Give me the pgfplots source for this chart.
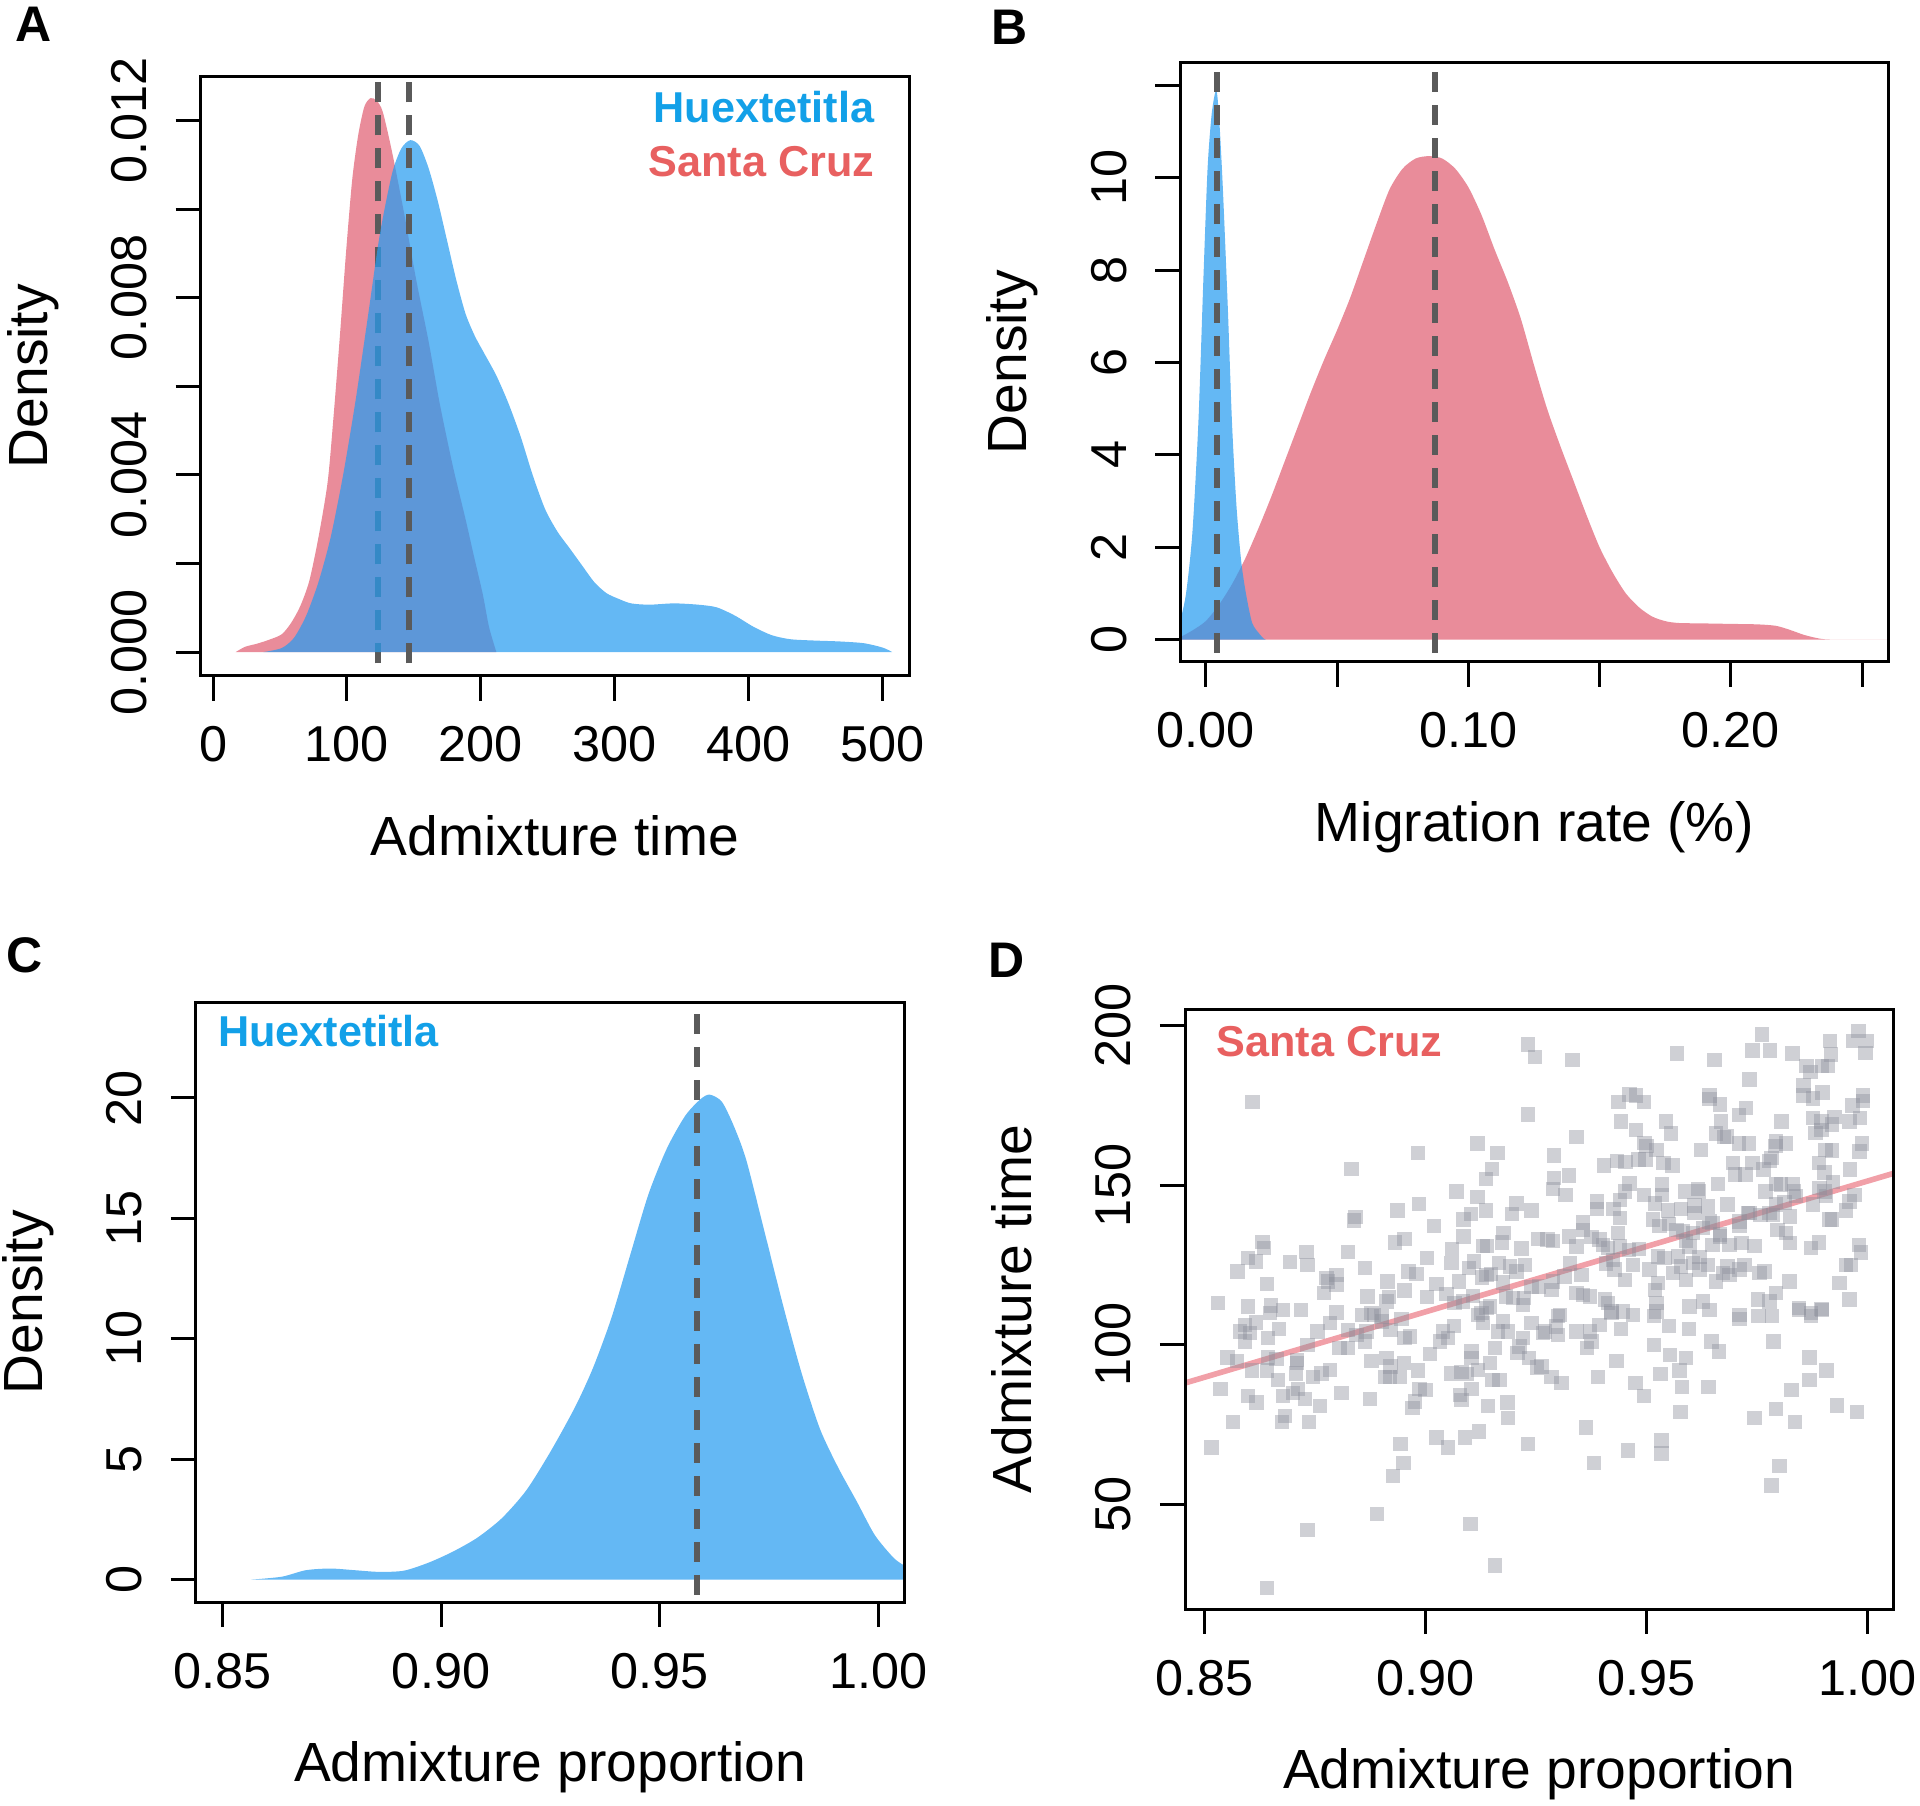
\documentclass[border=0pt]{standalone}
\usepackage{fontspec}
\setmainfont{Liberation Sans}
\usepackage{pgfplots}
\pgfplotsset{compat=1.18}

\definecolor{redfill}{RGB}{233,140,154}
\definecolor{bluebase}{RGB}{40,156,240}
\definecolor{huetext}{RGB}{18,160,232}
\definecolor{santatext}{RGB}{232,96,96}
\definecolor{dashgray}{RGB}{90,90,90}
\definecolor{ptgray}{RGB}{140,143,155}
\definecolor{regline}{RGB}{232,96,110}

\newcommand\tickfont{\fontsize{12.6pt}{15pt}\selectfont}
\newcommand\labfont{\fontsize{13.8pt}{16pt}\selectfont}
\newcommand\legfont{\fontsize{10.8pt}{13pt}\selectfont\bfseries}
\newcommand\panfont{\fontsize{12.5pt}{15pt}\selectfont\bfseries}

\pgfplotsset{
  panel/.style={
    scale only axis, width=177.1pt, height=149.9pt, anchor=south west,
    axis line style={line width=0.75pt},
    tick style={line width=0.75pt, black},
    tick align=outside, major tick length=6.25pt,
    xtick pos=bottom, ytick pos=left,
    scaled ticks=false,
    ticklabel style={font=\tickfont},
    xticklabel style={anchor=base},
    yticklabel style={rotate=90, anchor=base},
    xticklabel shift=15.25pt, yticklabel shift=7.25pt,
    label style={font=\labfont},
    xlabel style={at={(axis description cs:0.5,-0.30)}, anchor=base},
    ylabel style={at={(axis description cs:-0.216,0.5)}, anchor=base},
    axis on top,
  },
  dens/.style={draw=none, smooth, tension=0.45},
  med/.style={dashgray, line width=1.5pt, dash pattern=on 5pt off 3.25pt},
}

\begin{document}
\begin{tikzpicture}
\useasboundingbox (0,0) rectangle (480pt,-451.5pt);

% ---------------- A ----------------
\begin{axis}[panel, at={(50.175pt,-169pt)},
  xmin=-9.2, xmax=519.6, ymin=-0.00054, ymax=0.013,
  xtick={0,100,200,300,400,500}, xticklabels={0,100,200,300,400,500},
  ytick={0,0.002,0.004,0.006,0.008,0.010,0.012},
  yticklabels={0.000,,0.004,,0.008,,0.012},
  xlabel={Admixture time}, ylabel={Density}]
\addplot[dens, fill=redfill] coordinates {
(16.9,0) (24,0.00012) (32.9,0.00019) (42,0.00028) (51.2,0.00040) (58.1,0.00065)
(65,0.00103) (71.8,0.00160) (78.7,0.00259) (85.6,0.00385) (90.1,0.00537)
(94.7,0.00714) (99.3,0.00903) (103.9,0.01067) (108.4,0.01168) (113,0.01232)
(117.6,0.01251) (122.2,0.01245) (126.7,0.0122) (133.6,0.0113) (142.7,0.0099)
(151.7,0.0084) (161,0.0070) (169.3,0.0056) (179,0.0042) (188.5,0.0030)
(194.5,0.0022) (201.4,0.0013) (206,0.00057) (211.5,0)} \closedcycle;
\addplot[med] coordinates {(123.5,-0.001) (123.5,0.014)};
\addplot[dens, fill=bluebase, fill opacity=0.72] coordinates {
(37.5,0) (51.2,0.00009) (60.4,0.00032) (69.5,0.00082) (78.7,0.00158) (87.8,0.00259)
(97,0.00398) (106.1,0.00562) (115.3,0.00751) (124.4,0.00941) (133.6,0.0108)
(140.5,0.01137) (147.3,0.01156) (154.2,0.01143) (161,0.01092) (167.9,0.01017)
(174.8,0.00928) (181.6,0.0084) (188.5,0.00764) (195.4,0.00714) (202.2,0.00676)
(211.4,0.00625) (220.5,0.00562) (229.7,0.00486) (238.8,0.00398) (248,0.00322)
(257.1,0.00272) (266.3,0.00234) (275.4,0.00196) (284.6,0.00158) (293.7,0.00133)
(302.9,0.0012) (312,0.0011) (325.7,0.00107) (344,0.0011) (362.3,0.00107)
(376,0.00101) (389.8,0.00082) (403.5,0.00057) (417.2,0.00038) (431,0.00029)
(449.3,0.00026) (467.6,0.00024) (485.9,0.0002) (500,0.0001) (507,0)} \closedcycle;
\addplot[med] coordinates {(146.4,-0.001) (146.4,0.014)};
\node[anchor=base east, inner sep=0pt, font=\legfont, text=huetext] at (rel axis cs:0.952,0.9227) {Huextetitla};
\node[anchor=base east, inner sep=0pt, font=\legfont, text=santatext] at (rel axis cs:0.952,0.8333) {Santa Cruz};
\end{axis}

% ---------------- B ----------------
\begin{axis}[panel, at={(295pt,-165.5pt)},
  xmin=-0.0098, xmax=0.26, ymin=-0.485, ymax=12.5,
  xtick={0,0.05,0.10,0.15,0.20,0.25}, xticklabels={0.00,,0.10,,0.20,},
  ytick={0,2,4,6,8,10,12}, yticklabels={0,2,4,6,8,10,},
  xlabel={Migration rate (\%)}, ylabel={Density}]
\addplot[dens, fill=redfill] coordinates {
(-0.012,0) (-0.0098,0.05) (-0.005,0.2) (0,0.4) (0.005,0.75) (0.01,1.2) (0.015,1.75)
(0.02,2.4) (0.025,3.1) (0.03,3.85) (0.035,4.6) (0.04,5.35) (0.045,6.05) (0.05,6.7)
(0.055,7.4) (0.06,8.2) (0.065,9.0) (0.07,9.75) (0.075,10.2) (0.08,10.42)
(0.085,10.47) (0.09,10.42) (0.095,10.2) (0.10,9.8) (0.105,9.2) (0.11,8.45)
(0.115,7.75) (0.12,6.95) (0.125,5.95) (0.13,5.0) (0.135,4.2) (0.14,3.45)
(0.145,2.7) (0.15,2.0) (0.155,1.45) (0.16,1.0) (0.165,0.7) (0.17,0.5) (0.175,0.4)
(0.18,0.36) (0.19,0.35) (0.20,0.34) (0.21,0.33) (0.217,0.3) (0.222,0.22)
(0.228,0.1) (0.234,0.02) (0.24,0) (0.27,0)} \closedcycle;
\addplot[dens, fill=bluebase, fill opacity=0.72] coordinates {
(-0.012,0.1) (-0.0098,0.4) (-0.0075,1.0) (-0.0051,2.3) (-0.0028,4.7) (-0.0009,7.8)
(0.0007,10.2) (0.0023,11.4) (0.0040,11.9) (0.0051,11.3) (0.0065,9.8) (0.0084,7.2)
(0.0100,4.7) (0.0117,2.9) (0.0135,1.7) (0.0154,0.97) (0.0177,0.36) (0.0205,0.12)
(0.0221,0.02) (0.023,0)} \closedcycle;
\addplot[med] coordinates {(0.0042,-1) (0.0042,13)};
\addplot[med] coordinates {(0.0874,-1) (0.0874,13)};
\end{axis}

% ---------------- C ----------------
\begin{axis}[panel, at={(49pt,-400.5pt)},
  xmin=0.844, xmax=1.0059, ymin=-0.93, ymax=23.97,
  xtick={0.85,0.90,0.95,1.00}, xticklabels={0.85,0.90,0.95,1.00},
  ytick={0,5,10,15,20}, yticklabels={0,5,10,15,20},
  xlabel={Admixture proportion}, ylabel={Density}]
\addplot[dens, fill=bluebase, fill opacity=0.72] coordinates {
(0.8566,0) (0.8636,0.12) (0.8691,0.39) (0.8747,0.46) (0.8803,0.39) (0.8859,0.32)
(0.8915,0.37) (0.8971,0.7) (0.9027,1.16) (0.9083,1.74) (0.9139,2.55) (0.9195,3.71)
(0.9251,5.34) (0.9307,7.19) (0.9348,8.82) (0.939,10.9) (0.9432,13.46) (0.9474,16.0)
(0.9516,17.9) (0.9558,19.26) (0.9593,19.95) (0.9614,20.14) (0.9642,19.84)
(0.967,18.8) (0.9698,17.4) (0.974,14.4) (0.9782,11.37) (0.9824,8.58) (0.9866,6.26)
(0.9908,4.64) (0.995,3.25) (0.9991,1.86) (1.0033,0.93) (1.0059,0.58) (1.01,0.2)} \closedcycle;
\addplot[med] coordinates {(0.9586,-2) (0.9586,25)};
\node[anchor=base west, inner sep=0pt, font=\legfont, text=huetext] at (rel axis cs:0.030,0.9268) {Huextetitla};
\end{axis}

% ---------------- D ----------------
\begin{axis}[panel, at={(296.25pt,-402.25pt)},
  xmin=0.8455, xmax=1.0058, ymin=17.1, ymax=205.1,
  xtick={0.85,0.90,0.95,1.00}, xticklabels={0.85,0.90,0.95,1.00},
  ytick={50,100,150,200}, yticklabels={50,100,150,200},
  xlabel={Admixture proportion}, ylabel={Admixture time}]
\addplot[only marks, color=ptgray, mark=square*, mark size=1.8pt,
  mark options={solid, fill=ptgray, draw=ptgray, fill opacity=0.42, draw opacity=0, line width=0pt, rounded corners=0.5pt}]
  table[row sep=\\] {
x y \\
0.9231 194.1 \\ 0.9247 190.2 \\ 0.8608 176.1 \\ 0.9231 172.1 \\ 0.9117 163.0 \\
0.9162 160.1 \\ 0.8982 160.1 \\ 0.8832 155.1 \\ 0.9150 155.1 \\ 0.9136 152.0 \\
0.9069 148.0 \\ 0.9117 146.3 \\ 0.8984 144.1 \\ 0.8936 142.1 \\ 0.9205 144.2 \\
0.9195 141.0 \\ 0.9239 142.1 \\ 0.9136 142.1 \\ 0.9102 141.0 \\ 0.9085 139.2 \\
0.8841 140.0 \\ 0.8838 138.9 \\ 0.9018 137.1 \\ 0.9085 133.9 \\ 0.9176 135.0 \\
0.9172 132.0 \\ 0.8952 133.1 \\ 0.8930 132.0 \\ 0.9254 133.1 \\ 0.8630 132.2 \\
0.8634 130.3 \\ 0.9139 131.0 \\ 0.9129 131.0 \\ 0.9216 130.1 \\ 0.8824 129.0 \\
0.8730 129.0 \\ 0.8732 125.0 \\ 0.8597 127.1 \\ 0.8616 126.1 \\ 0.8692 125.9 \\
0.8574 122.9 \\ 0.9059 130.0 \\ 0.9058 125.6 \\ 0.9003 127.1 \\ 0.9165 125.6 \\
0.9109 126.1 \\ 0.9097 124.0 \\ 0.8862 124.0 \\ 0.8961 122.9 \\ 0.8979 122.1 \\
0.9190 124.5 \\ 0.9205 122.9 \\ 0.9224 125.0 \\ 0.9137 121.9 \\ 0.9127 121.1 \\
0.9147 122.1 \\ 0.8775 120.9 \\ 0.8798 121.9 \\ 0.8779 119.8 \\ 0.8798 118.8 \\
0.8641 119.0 \\ 0.8913 119.8 \\ 0.9075 119.8 \\ 0.9175 119.5 \\ 0.9239 118.0 \\
0.9256 118.2 \\ 0.8952 117.0 \\ 0.9024 119.0 \\ 0.8770 116.2 \\ 0.8868 115.1 \\
0.8916 114.9 \\ 0.8911 113.5 \\ 0.9003 114.9 \\ 0.9047 115.9 \\ 0.9107 115.3 \\
0.9084 113.5 \\ 0.9181 115.1 \\ 0.9197 114.6 \\ 0.9222 114.6 \\ 0.9220 112.5 \\
0.8530 113.0 \\ 0.8598 111.9 \\ 0.8649 112.2 \\ 0.8647 109.9 \\ 0.8677 110.9 \\
0.8717 110.9 \\ 0.8798 110.1 \\ 0.8855 109.3 \\ 0.8877 109.9 \\ 0.8900 108.8 \\
0.9137 111.4 \\ 0.9145 111.9 \\ 0.9126 109.9 \\ 0.9065 113.0 \\
0.8591 106.2 \\ 0.8579 104.1 \\ 0.8602 103.6 \\ 0.8591 101.0 \\ 0.8616 106.9 \\
0.8668 104.9 \\ 0.8643 102.0 \\ 0.8755 104.1 \\ 0.8783 106.7 \\ 0.8824 104.6 \\
0.8843 103.1 \\ 0.8866 104.1 \\ 0.8862 101.0 \\ 0.8882 109.3 \\ 0.8901 107.2 \\
0.8920 104.6 \\ 0.8945 108.0 \\ 0.8952 102.0 \\ 0.8964 102.5 \\ 0.8732 99.9 \\
0.8805 98.9 \\ 0.8824 98.9 \\ 0.9039 104.1 \\ 0.9032 101.0 \\ 0.9050 102.0 \\
0.9064 105.9 \\ 0.9118 109.3 \\ 0.9129 106.7 \\ 0.9163 104.1 \\ 0.9186 104.1 \\
0.9175 107.2 \\ 0.9220 102.0 \\ 0.9212 99.4 \\ 0.9239 106.7 \\ 0.9265 103.6 \\
0.8551 95.9 \\ 0.8572 94.9 \\ 0.8643 95.9 \\ 0.8662 95.4 \\ 0.8708 95.2 \\
0.8708 94.2 \\ 0.8877 94.9 \\ 0.8911 95.8 \\ 0.8920 93.1 \\ 0.8951 94.2 \\
0.9009 97.0 \\ 0.9103 97.8 \\ 0.9103 95.8 \\ 0.9157 98.9 \\ 0.9145 94.2 \\
0.9207 97.3 \\ 0.9233 95.8 \\ 0.9252 92.8 \\ 0.8606 91.9 \\ 0.8640 91.9 \\
0.8665 88.9 \\ 0.8706 91.0 \\ 0.8745 89.9 \\ 0.8764 91.0 \\ 0.8783 92.1 \\
0.8907 89.9 \\ 0.8919 89.9 \\ 0.8941 89.9 \\ 0.8982 91.9 \\ 0.9058 91.0 \\
0.9081 91.5 \\ 0.9092 90.8 \\ 0.9118 92.1 \\ 0.9151 88.9 \\ 0.9167 88.9 \\
0.8535 86.0 \\ 0.8598 83.9 \\ 0.8617 81.8 \\ 0.8677 83.9 \\ 0.8681 77.6 \\
0.8674 75.8 \\ 0.8711 86.0 \\ 0.8700 84.8 \\ 0.8726 82.9 \\ 0.8760 80.8 \\
0.8809 84.9 \\ 0.8873 82.9 \\ 0.8986 86.0 \\ 0.8999 85.8 \\ 0.8975 82.1 \\
0.8970 80.1 \\ 0.9077 84.2 \\ 0.9081 82.7 \\ 0.9103 86.0 \\ 0.9141 80.8 \\
0.9185 81.8 \\ 0.9186 76.9 \\ 0.8563 75.8 \\ 0.8736 75.8 \\ 0.9024 70.9 \\
0.9050 67.8 \\ 0.9088 70.9 \\ 0.9120 72.7 \\ 0.9231 68.9 \\ 0.8515 67.8 \\
0.8943 68.9 \\ 0.8949 62.8 \\ 0.8926 58.8 \\ 0.8889 46.8 \\ 0.9101 43.7 \\
0.8732 41.9 \\ 0.9157 30.8 \\ 0.8640 23.7 \\
0.9761 197.2 \\ 0.9979 198.3 \\ 0.9966 195.1 \\ 0.9998 195.1 \\ 0.9915 195.1 \\
0.9917 191.0 \\ 0.9995 191.5 \\ 0.9568 191.3 \\ 0.9332 189.2 \\ 0.9653 189.2 \\
0.9739 192.2 \\ 0.9779 192.2 \\ 0.9830 191.3 \\ 0.9732 183.1 \\ 0.9861 187.3 \\
0.9870 185.4 \\ 0.9897 187.3 \\ 0.9910 187.3 \\ 0.9855 181.2 \\ 0.9855 178.1 \\
0.9876 177.2 \\ 0.9898 179.1 \\ 0.9461 178.4 \\ 0.9476 178.1 \\ 0.9493 176.0 \\
0.9436 176.0 \\ 0.9642 178.1 \\ 0.9642 177.1 \\ 0.9665 175.3 \\ 0.9989 178.1 \\
0.9989 176.3 \\ 0.9965 175.0 \\ 0.9725 174.2 \\ 0.9708 172.0 \\ 0.9441 170.0 \\
0.9544 170.0 \\ 0.9668 170.0 \\ 0.9805 170.0 \\ 0.9876 171.1 \\ 0.9895 170.0 \\
0.9919 169.0 \\ 0.9925 171.4 \\ 0.9959 170.0 \\ 0.9983 171.0 \\ 0.9475 167.2 \\
0.9555 166.2 \\ 0.9657 166.2 \\ 0.9674 165.1 \\ 0.9681 165.3 \\ 0.9882 166.4 \\
0.9895 167.2 \\ 0.9341 165.1 \\ 0.9495 163.2 \\ 0.9499 162.2 \\ 0.9522 161.1 \\
0.9622 161.1 \\ 0.9708 163.0 \\ 0.9731 163.0 \\ 0.9793 163.7 \\ 0.9791 162.2 \\
0.9815 163.0 \\ 0.9904 161.1 \\ 0.9919 160.9 \\ 0.9987 163.0 \\ 0.9981 160.6 \\
0.9290 159.3 \\ 0.9403 156.1 \\ 0.9433 157.5 \\ 0.9452 157.2 \\ 0.9481 158.0 \\
0.9497 158.0 \\ 0.9538 157.0 \\ 0.9558 156.1 \\ 0.9695 157.0 \\ 0.9739 157.0 \\
0.9764 154.9 \\ 0.9778 157.5 \\ 0.9782 158.5 \\ 0.9889 157.0 \\ 0.9902 154.0 \\
0.9960 154.9 \\ 0.9290 152.3 \\ 0.9288 148.8 \\ 0.9324 153.0 \\ 0.9316 147.0 \\
0.9699 153.3 \\ 0.9723 153.3 \\ 0.9661 150.4 \\ 0.9616 148.8 \\ 0.9618 148.0 \\
0.9535 150.2 \\ 0.9535 147.0 \\ 0.9461 150.5 \\ 0.9450 148.0 \\ 0.9493 147.0 \\
0.9586 148.0 \\ 0.9769 148.0 \\ 0.9793 150.4 \\ 0.9804 150.2 \\ 0.9830 150.4 \\
0.9833 148.0 \\ 0.9891 149.1 \\ 0.9902 148.0 \\ 0.9921 150.9 \\ 0.9970 147.0 \\
0.9387 144.9 \\ 0.9387 142.5 \\ 0.9425 142.5 \\ 0.9439 139.7 \\ 0.9439 145.4 \\
0.9518 144.2 \\ 0.9548 142.1 \\ 0.9578 142.5 \\ 0.9608 143.6 \\ 0.9608 141.3 \\
0.9638 143.3 \\ 0.9683 143.9 \\ 0.9732 141.3 \\ 0.9778 141.3 \\ 0.9793 143.9 \\
0.9812 144.6 \\ 0.9824 140.2 \\ 0.9838 146.5 \\ 0.9876 143.9 \\ 0.9906 146.5 \\
0.9951 142.1 \\ 0.9959 144.9 \\ 0.9913 139.2 \\ 0.9919 139.2 \\ 0.9356 138.3 \\
0.9356 136.0 \\ 0.9514 139.2 \\ 0.9529 137.1 \\ 0.9550 137.9 \\ 0.9567 136.0 \\
0.9582 135.5 \\ 0.9604 135.0 \\ 0.9627 136.6 \\ 0.9642 138.6 \\ 0.9649 138.1 \\
0.9665 134.5 \\ 0.9710 138.6 \\ 0.9729 141.3 \\ 0.9710 137.1 \\ 0.9757 140.7 \\
0.9785 140.7 \\ 0.9796 136.0 \\ 0.9815 135.0 \\ 0.9275 132.9 \\ 0.9288 132.4 \\
0.9324 133.9 \\ 0.9341 130.8 \\ 0.9375 133.7 \\ 0.9393 132.9 \\ 0.9401 131.3 \\
0.9412 130.3 \\ 0.9435 135.0 \\ 0.9439 130.8 \\ 0.9460 129.7 \\ 0.9482 130.0 \\
0.9525 127.6 \\ 0.9540 127.1 \\ 0.9570 127.6 \\ 0.9589 132.4 \\ 0.9597 130.8 \\
0.9619 127.5 \\ 0.9649 131.3 \\ 0.9665 133.9 \\ 0.9687 131.3 \\ 0.9714 131.9 \\
0.9744 131.0 \\ 0.9824 131.9 \\ 0.9872 130.3 \\ 0.9889 132.0 \\ 0.9980 131.3 \\
0.9985 128.9 \\ 0.9326 125.4 \\ 0.9352 121.9 \\ 0.9314 121.4 \\ 0.9288 119.8 \\
0.9284 117.2 \\ 0.9408 125.4 \\ 0.9423 126.6 \\ 0.9427 123.5 \\ 0.9450 120.3 \\
0.9469 125.0 \\ 0.9506 123.5 \\ 0.9525 119.3 \\ 0.9518 117.2 \\ 0.9559 122.4 \\
0.9578 124.5 \\ 0.9589 120.3 \\ 0.9604 125.6 \\ 0.9619 123.5 \\ 0.9638 125.0 \\
0.9657 119.8 \\ 0.9672 122.4 \\ 0.9683 124.5 \\ 0.9687 121.9 \\ 0.9710 123.5 \\
0.9721 125.0 \\ 0.9755 122.4 \\ 0.9766 122.9 \\ 0.9823 119.8 \\ 0.9936 119.3 \\
0.9951 125.0 \\ 0.9962 125.0 \\ 0.9341 116.2 \\ 0.9356 115.6 \\ 0.9371 115.1 \\
0.9405 114.1 \\ 0.9412 113.0 \\ 0.9420 110.4 \\ 0.9446 110.4 \\ 0.9469 109.3 \\
0.9522 113.0 \\ 0.9522 110.4 \\ 0.9597 111.9 \\ 0.9627 113.5 \\ 0.9642 110.9 \\
0.9710 109.3 \\ 0.9751 114.1 \\ 0.9778 113.5 \\ 0.9793 116.2 \\ 0.9845 111.4 \\
0.9872 109.9 \\ 0.9895 111.1 \\ 0.9959 114.1 \\ 0.9303 109.3 \\
0.9299 109.0 \\ 0.9295 105.7 \\ 0.9299 103.1 \\ 0.9269 104.1 \\ 0.9341 104.1 \\
0.9371 104.1 \\ 0.9375 101.0 \\ 0.9365 98.9 \\ 0.9393 106.2 \\ 0.9442 104.9 \\
0.9420 109.9 \\ 0.9516 109.0 \\ 0.9550 105.9 \\ 0.9595 104.9 \\ 0.9646 101.0 \\
0.9663 97.8 \\ 0.9710 108.0 \\ 0.9753 109.0 \\ 0.9783 109.0 \\ 0.9787 101.0 \\
0.9844 110.9 \\ 0.9872 109.0 \\ 0.9897 110.9 \\ 0.9516 99.9 \\ 0.9552 96.8 \\
0.9589 95.8 \\ 0.9431 94.9 \\ 0.9262 93.1 \\ 0.9284 89.9 \\ 0.9307 87.9 \\
0.9389 89.9 \\ 0.9474 87.9 \\ 0.9493 83.9 \\ 0.9531 90.8 \\ 0.9574 91.9 \\
0.9580 86.8 \\ 0.9640 86.8 \\ 0.9868 95.9 \\ 0.9907 91.9 \\ 0.9868 88.9 \\
0.9827 85.8 \\ 0.9576 78.8 \\ 0.9744 76.9 \\ 0.9793 79.8 \\ 0.9836 75.8 \\
0.9930 80.9 \\ 0.9975 78.8 \\ 0.9363 74.0 \\ 0.9533 69.9 \\ 0.9533 65.9 \\
0.9457 66.8 \\ 0.9380 62.8 \\ 0.9800 61.9 \\ 0.9782 55.8 \\
};
\addplot[regline, draw opacity=0.6, line width=1.4pt] coordinates {(0.84,85.7) (1.01,155.4)};
\node[anchor=base west, inner sep=0pt, font=\legfont, text=santatext] at (rel axis cs:0.0437,0.9215) {Santa Cruz};
\end{axis}

% panel letters
\node[font=\panfont] at (8.4pt,-6.1pt) {A};
\node[font=\panfont] at (252.5pt,-6.8pt) {B};
\node[font=\panfont] at (6.1pt,-238.7pt) {C};
\node[font=\panfont] at (251.7pt,-240.2pt) {D};
\end{tikzpicture}
\end{document}
